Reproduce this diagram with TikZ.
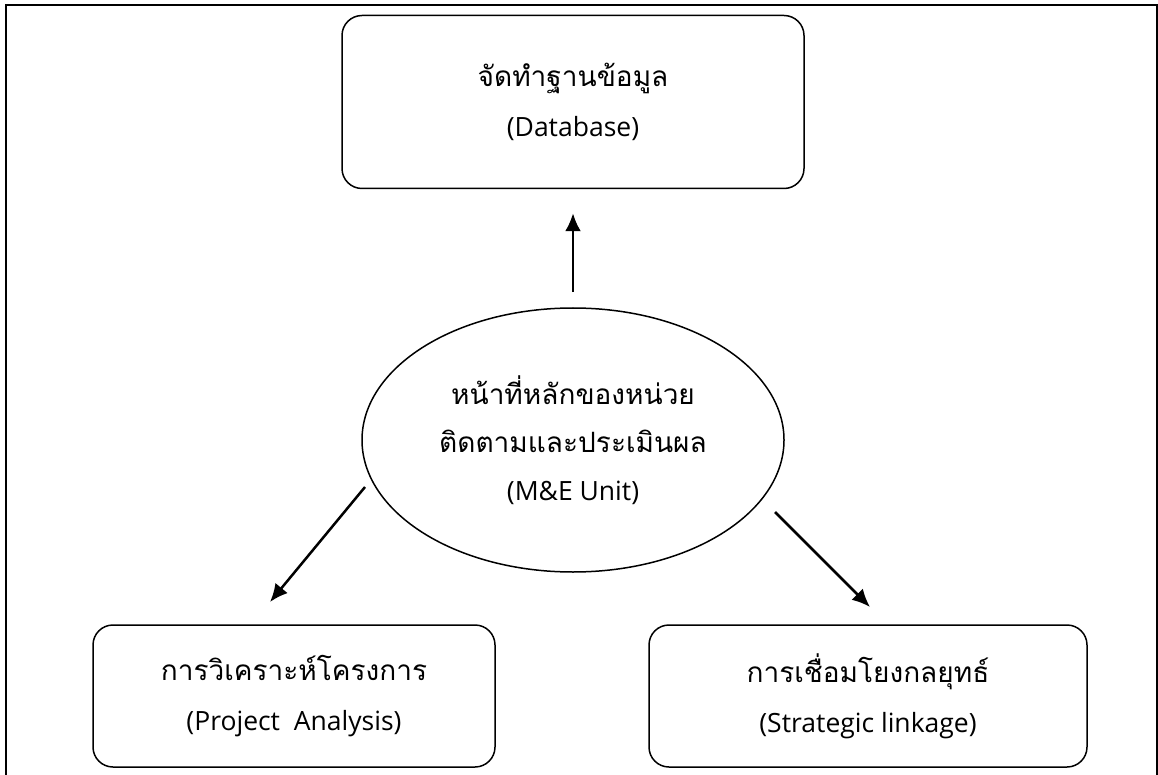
\documentclass[tikz,border=0pt]{standalone}
\usepackage{fontspec}
\setmainfont[Script=Thai]{Loma}
\newfontfamily\engf{Open Sans}
\newcommand\thl[1]{{\fontsize{28}{50}\selectfont #1}}
\newcommand\enl[1]{{\engf\fontsize{26.5}{50}\selectfont #1}}
\usetikzlibrary{shapes.geometric,arrows.meta}
\begin{document}
\begin{tikzpicture}[x=1pt,y=-1pt,
  box/.style={draw,line width=1.5pt,rounded corners=20pt,inner sep=0pt,align=center,font=\fontsize{24}{50}\selectfont},
  ell/.style={draw,ellipse,line width=1.5pt,inner sep=0pt,align=center,font=\fontsize{24}{48}\selectfont},
  arr/.style={line width=2.5pt,-{Latex[length=18pt,width=16pt]}}]
\useasboundingbox (0,0) rectangle (1158,775);
\draw[line width=2.5pt] (6,776) -- (6,5) -- (1157,5) -- (1157,776);
\node[box,minimum width=462pt,minimum height=173pt] (db) at (573,102) {\thl{จัดทำฐานข้อมูล}\\\enl{(Database)}};
\node[ell,minimum width=422pt,minimum height=264pt] (me) at (573,440) {\thl{หน้าที่หลักของหน่วย}\\\thl{ติดตามและประเมินผล}\\\enl{(M\&E Unit)}};
\node[box,minimum width=402pt,minimum height=142pt] (pa) at (294,696) {\thl{การวิเคราะห์โครงการ}\\\enl{(Project~~Analysis)}};
\node[box,minimum width=438pt,minimum height=142pt] (sl) at (868,696) {\thl{การเชื่อมโยงกลยุทธ์}\\\enl{(Strategic linkage)}};
\coordinate (ltail) at (365,487);
\coordinate (lhead) at (270,602);
\coordinate (rtail) at (775,512);
\coordinate (rhead) at (870,607);
\draw[arr,shorten <=15pt,shorten >=24pt] (me.north) -- (db.south);
\draw[arr] (ltail) -- (lhead);
\draw[arr] (rtail) -- (rhead);
\end{tikzpicture}
\end{document}
